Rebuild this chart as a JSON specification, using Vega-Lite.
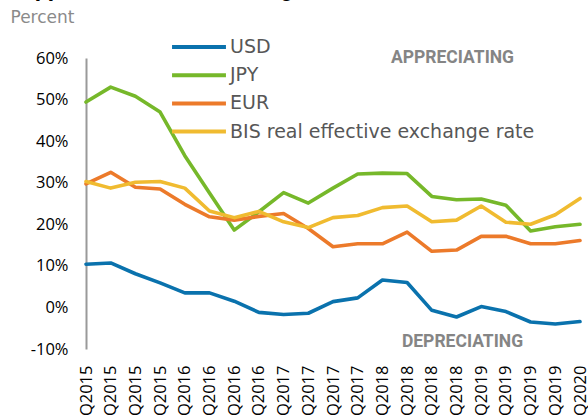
{
  "$schema": "https://vega.github.io/schema/vega-lite/v6.json",
  "width": 494,
  "height": 291,
  "autosize": "none",
  "padding": {"left": 86, "top": 58, "right": 8, "bottom": 67},
  "background": "white",
  "title": {
    "text": "Appreciation of all funding currencies",
    "anchor": "start",
    "frame": "group",
    "dx": -66,
    "offset": 7,
    "font": "Roboto",
    "fontSize": 23,
    "fontWeight": "bold",
    "color": "#000000"
  },
  "config": {
    "view": {"stroke": null},
    "axis": {"labelFont": "Open Sans", "labelColor": "#000000", "grid": false, "ticks": false}
  },
  "datasets": {
    "series": [
      {"q": "1Q2015", "currency": "USD", "v": 10.4}, {"q": "2Q2015", "currency": "USD", "v": 10.7}, {"q": "3Q2015", "currency": "USD", "v": 8.1}, {"q": "4Q2015", "currency": "USD", "v": 5.9}, {"q": "1Q2016", "currency": "USD", "v": 3.5}, {"q": "2Q2016", "currency": "USD", "v": 3.5}, {"q": "3Q2016", "currency": "USD", "v": 1.5}, {"q": "4Q2016", "currency": "USD", "v": -1.2}, {"q": "1Q2017", "currency": "USD", "v": -1.7}, {"q": "2Q2017", "currency": "USD", "v": -1.4}, {"q": "3Q2017", "currency": "USD", "v": 1.4}, {"q": "4Q2017", "currency": "USD", "v": 2.3}, {"q": "1Q2018", "currency": "USD", "v": 6.6}, {"q": "2Q2018", "currency": "USD", "v": 6.0}, {"q": "3Q2018", "currency": "USD", "v": -0.7}, {"q": "4Q2018", "currency": "USD", "v": -2.3}, {"q": "1Q2019", "currency": "USD", "v": 0.2}, {"q": "2Q2019", "currency": "USD", "v": -1.0}, {"q": "3Q2019", "currency": "USD", "v": -3.5}, {"q": "4Q2019", "currency": "USD", "v": -4.0}, {"q": "1Q2020", "currency": "USD", "v": -3.4},
      {"q": "1Q2015", "currency": "JPY", "v": 49.4}, {"q": "2Q2015", "currency": "JPY", "v": 53.0}, {"q": "3Q2015", "currency": "JPY", "v": 50.8}, {"q": "4Q2015", "currency": "JPY", "v": 47.0}, {"q": "1Q2016", "currency": "JPY", "v": 36.5}, {"q": "2Q2016", "currency": "JPY", "v": 27.5}, {"q": "3Q2016", "currency": "JPY", "v": 18.6}, {"q": "4Q2016", "currency": "JPY", "v": 23.0}, {"q": "1Q2017", "currency": "JPY", "v": 27.6}, {"q": "2Q2017", "currency": "JPY", "v": 25.1}, {"q": "3Q2017", "currency": "JPY", "v": 28.7}, {"q": "4Q2017", "currency": "JPY", "v": 32.1}, {"q": "1Q2018", "currency": "JPY", "v": 32.3}, {"q": "2Q2018", "currency": "JPY", "v": 32.2}, {"q": "3Q2018", "currency": "JPY", "v": 26.7}, {"q": "4Q2018", "currency": "JPY", "v": 25.9}, {"q": "1Q2019", "currency": "JPY", "v": 26.1}, {"q": "2Q2019", "currency": "JPY", "v": 24.6}, {"q": "3Q2019", "currency": "JPY", "v": 18.4}, {"q": "4Q2019", "currency": "JPY", "v": 19.4}, {"q": "1Q2020", "currency": "JPY", "v": 20.0},
      {"q": "1Q2015", "currency": "EUR", "v": 29.7}, {"q": "2Q2015", "currency": "EUR", "v": 32.5}, {"q": "3Q2015", "currency": "EUR", "v": 28.9}, {"q": "4Q2015", "currency": "EUR", "v": 28.5}, {"q": "1Q2016", "currency": "EUR", "v": 24.8}, {"q": "2Q2016", "currency": "EUR", "v": 21.8}, {"q": "3Q2016", "currency": "EUR", "v": 21.0}, {"q": "4Q2016", "currency": "EUR", "v": 21.9}, {"q": "1Q2017", "currency": "EUR", "v": 22.6}, {"q": "2Q2017", "currency": "EUR", "v": 19.0}, {"q": "3Q2017", "currency": "EUR", "v": 14.6}, {"q": "4Q2017", "currency": "EUR", "v": 15.3}, {"q": "1Q2018", "currency": "EUR", "v": 15.3}, {"q": "2Q2018", "currency": "EUR", "v": 18.1}, {"q": "3Q2018", "currency": "EUR", "v": 13.5}, {"q": "4Q2018", "currency": "EUR", "v": 13.8}, {"q": "1Q2019", "currency": "EUR", "v": 17.1}, {"q": "2Q2019", "currency": "EUR", "v": 17.1}, {"q": "3Q2019", "currency": "EUR", "v": 15.3}, {"q": "4Q2019", "currency": "EUR", "v": 15.3}, {"q": "1Q2020", "currency": "EUR", "v": 16.1},
      {"q": "1Q2015", "currency": "BIS real effective exchange rate", "v": 30.3}, {"q": "2Q2015", "currency": "BIS real effective exchange rate", "v": 28.7}, {"q": "3Q2015", "currency": "BIS real effective exchange rate", "v": 30.1}, {"q": "4Q2015", "currency": "BIS real effective exchange rate", "v": 30.3}, {"q": "1Q2016", "currency": "BIS real effective exchange rate", "v": 28.7}, {"q": "2Q2016", "currency": "BIS real effective exchange rate", "v": 23.2}, {"q": "3Q2016", "currency": "BIS real effective exchange rate", "v": 21.6}, {"q": "4Q2016", "currency": "BIS real effective exchange rate", "v": 23.1}, {"q": "1Q2017", "currency": "BIS real effective exchange rate", "v": 20.6}, {"q": "2Q2017", "currency": "BIS real effective exchange rate", "v": 19.2}, {"q": "3Q2017", "currency": "BIS real effective exchange rate", "v": 21.6}, {"q": "4Q2017", "currency": "BIS real effective exchange rate", "v": 22.1}, {"q": "1Q2018", "currency": "BIS real effective exchange rate", "v": 24.0}, {"q": "2Q2018", "currency": "BIS real effective exchange rate", "v": 24.4}, {"q": "3Q2018", "currency": "BIS real effective exchange rate", "v": 20.6}, {"q": "4Q2018", "currency": "BIS real effective exchange rate", "v": 21.0}, {"q": "1Q2019", "currency": "BIS real effective exchange rate", "v": 24.4}, {"q": "2Q2019", "currency": "BIS real effective exchange rate", "v": 20.5}, {"q": "3Q2019", "currency": "BIS real effective exchange rate", "v": 20.0}, {"q": "4Q2019", "currency": "BIS real effective exchange rate", "v": 22.3}, {"q": "1Q2020", "currency": "BIS real effective exchange rate", "v": 26.2}
    ],
    "notes": [
      {"q": "4Q2018", "v": 60, "label": "APPRECIATING", "shift": -4},
      {"q": "4Q2018", "v": -8.2, "label": "DEPRECIATING", "shift": 6}
    ]
  },
  "layer": [
    {
      "mark": {"type": "rule", "color": "#9a9a9a", "strokeWidth": 2},
      "encoding": {"y": {"datum": 0, "type": "quantitative"}}
    },
    {
      "data": {"name": "series"},
      "mark": {"type": "line", "strokeWidth": 3.6, "strokeJoin": "round", "strokeCap": "round"},
      "encoding": {
        "x": {
          "field": "q", "type": "ordinal",
          "scale": {"type": "point", "padding": 0, "domain": ["1Q2015","2Q2015","3Q2015","4Q2015","1Q2016","2Q2016","3Q2016","4Q2016","1Q2017","2Q2017","3Q2017","4Q2017","1Q2018","2Q2018","3Q2018","4Q2018","1Q2019","2Q2019","3Q2019","4Q2019","1Q2020"]},
          "axis": {"title": null, "domain": false, "labelAngle": -90, "labelFontSize": 16.5, "labelPadding": 16, "labelAlign": "right", "labelBaseline": "middle"}
        },
        "y": {
          "field": "v", "type": "quantitative",
          "scale": {"domain": [-10, 60], "nice": false, "zero": false},
          "axis": {
            "values": [-10, 0, 10, 20, 30, 40, 50, 60],
            "labelExpr": "datum.value + '%'",
            "labelFontSize": 16.5,
            "labelPadding": 18,
            "domainColor": "#9a9a9a",
            "domainWidth": 2,
            "title": "Percent",
            "titleAngle": 0,
            "titleAlign": "left",
            "titleBaseline": "middle",
            "titleX": -76,
            "titleY": -41,
            "titleFont": "DejaVu Sans",
            "titleFontSize": 17,
            "titleFontWeight": "normal",
            "titleColor": "#8a8a8a"
          }
        },
        "color": {
          "field": "currency", "type": "nominal",
          "scale": {"domain": ["USD", "JPY", "EUR", "BIS real effective exchange rate"], "range": ["#0a72ad", "#76b82a", "#ec7a2a", "#f0bb30"]},
          "legend": {
            "title": null,
            "orient": "none",
            "legendX": 100,
            "legendY": -24,
            "symbolType": "M-2.45,0H2.45",
            "symbolSize": 484,
            "symbolStrokeWidth": 4,
            "labelFont": "DejaVu Sans",
            "labelFontSize": 19,
            "labelColor": "#575757",
            "labelOffset": 18,
            "labelLimit": 400,
            "rowPadding": 5.2
          }
        },
        "order": {"value": 0}
      }
    },
    {
      "data": {"name": "notes"},
      "mark": {"type": "text", "font": "Roboto", "fontWeight": "bold", "fontSize": 17.5, "color": "#858585", "align": "center", "baseline": "middle"},
      "encoding": {
        "x": {"field": "q", "type": "ordinal"},
        "y": {"field": "v", "type": "quantitative"},
        "text": {"field": "label"},
        "xOffset": {"field": "shift", "type": "quantitative", "scale": null}
      }
    }
  ]
}
